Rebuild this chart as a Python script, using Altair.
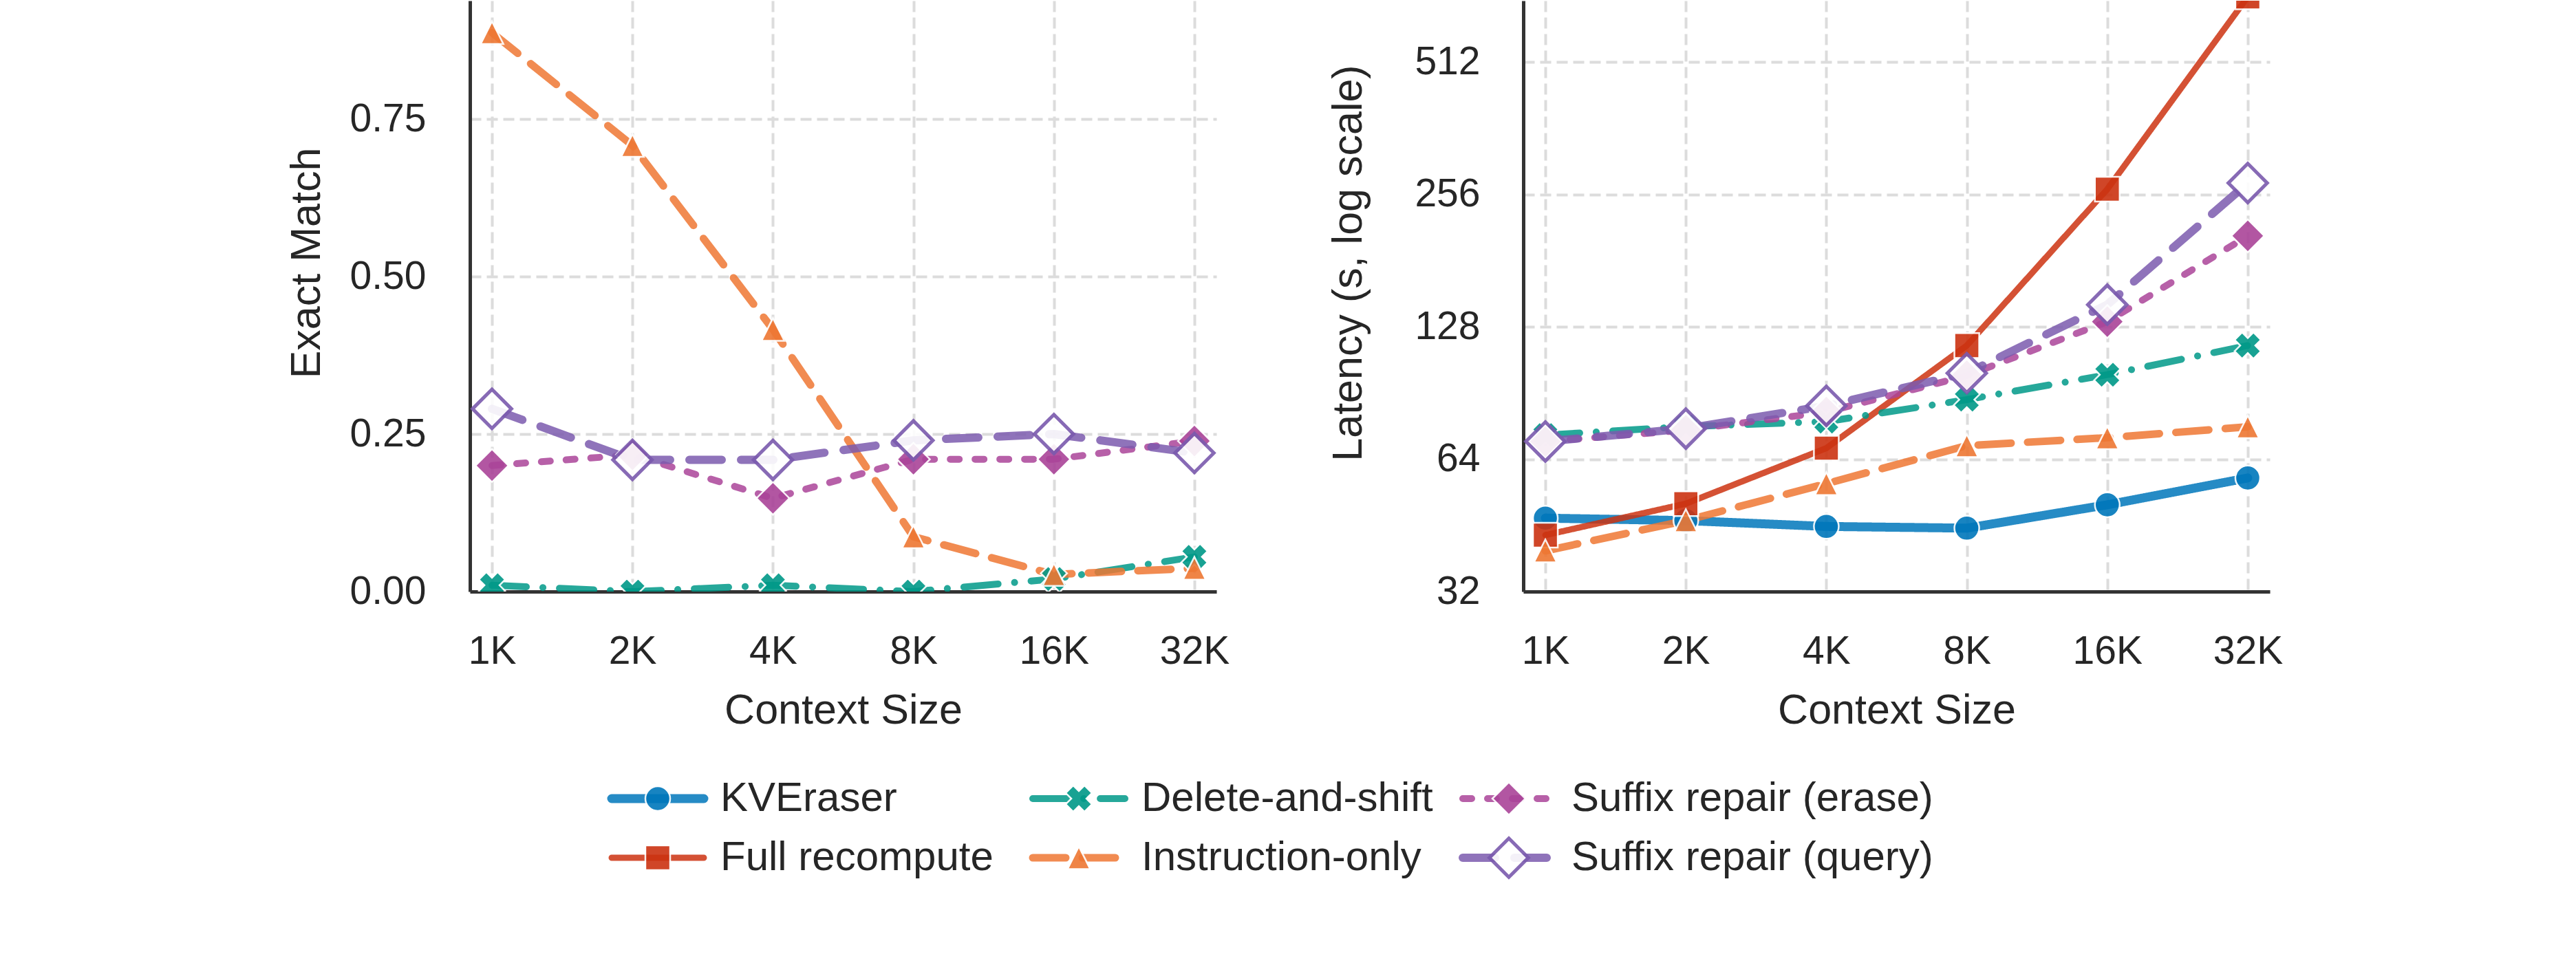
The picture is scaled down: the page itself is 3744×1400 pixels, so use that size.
import altair as alt
import pandas as pd

FONT = "Liberation Sans"
TXT = "#262626"

# ---------------- data ----------------
sizes = ["1K", "2K", "4K", "8K", "16K", "32K"]
methods = ["KVEraser", "Full recompute", "Delete-and-shift", "Instruction-only",
           "Suffix repair (erase)", "Suffix repair (query)"]

# Exact match (left panel); KVEraser / Full recompute sit above the visible crop
em_kveraser = [1.00, 1.00, 1.00, 1.00, 1.00, 1.00]
em_full = [1.00, 1.00, 1.00, 1.00, 1.00, 1.00]
em_delete = [0.01, 0.00, 0.01, 0.00, 0.02, 0.055]
em_instr = [0.887, 0.708, 0.416, 0.087, 0.027, 0.037]
em_erase = [0.20, 0.217, 0.148, 0.21, 0.21, 0.239]
em_query = [0.29, 0.209, 0.209, 0.24, 0.25, 0.22]

# Latency in seconds (right panel, log scale)
lat_kveraser = [47.0, 46.4, 45.0, 44.6, 50.4, 58.0]
lat_full = [43.0, 50.7, 67.8, 116.0, 263.0, 720.0]
lat_delete = [72.6, 75.9, 77.9, 87.4, 99.6, 116.0]
lat_instr = [39.6, 46.4, 56.3, 68.7, 71.6, 75.8]
lat_erase = [70.2, 74.5, 81.9, 99.1, 131.5, 206.0]
lat_query = [70.2, 75.1, 84.6, 100.4, 143.7, 271.6]

em_all = [em_kveraser, em_full, em_delete, em_instr, em_erase, em_query]
lat_all = [lat_kveraser, lat_full, lat_delete, lat_instr, lat_erase, lat_query]

em_rows, lat_rows = [], []
for m, ev, lv in zip(methods, em_all, lat_all):
    for s, a, b in zip(sizes, ev, lv):
        em_rows.append({"method": m, "size": s, "value": a})
        lat_rows.append({"method": m, "size": s, "value": b})
em_df = pd.DataFrame(em_rows)
lat_df = pd.DataFrame(lat_rows)

# ---------------- styles ----------------
colors = ["#0077BB", "#CC3311", "#009988", "#EE7733", "#AA4499", "#7B5AAE"]
dashes = [[1, 0], [1, 0], [50, 24, 0.1, 24], [48, 24], [13, 23], [47, 28]]
line_w = [13, 9, 10, 11, 10, 12]
shapes = ["circle", "square", "cross", "M0,-1L1,1L-1,1Z", "diamond", "diamond"]
angles = [0, 0, 45, 0, 0, 0]
msize = [1300, 1300, 1500, 1100, 2300, 3200]
fills = ["#0077BB", "#CC3311", "#009988", "#EE7733", "#AA4499", "white"]
strokes = ["white", "white", "white", "white", "white", "#7B5AAE"]
mstroke_w = [2.5, 2.5, 2.5, 2.5, 2.5, 5]


def sc(rng):
    return alt.Scale(type="ordinal", domain=methods, range=rng)


PLOT_W, PLOT_H = 1085, 859
x_enc = alt.X("size:N", sort=sizes, title="Context Size",
              scale=alt.Scale(type="point", padding=0.157),
              axis=alt.Axis(labelAngle=0, labelPadding=59, titlePadding=28))


def panel(df, yscale, yaxis):
    base = alt.Chart(df)
    lines = base.mark_line(strokeCap="round", strokeJoin="round", clip=True, opacity=0.85).encode(
        x=x_enc,
        y=alt.Y("value:Q", scale=yscale, axis=yaxis),
        color=alt.Color("method:N", scale=sc(colors), legend=None),
        strokeDash=alt.StrokeDash("method:N", scale=sc(dashes), legend=None),
        strokeWidth=alt.StrokeWidth("method:N", scale=sc(line_w), legend=None),
        detail="method:N",
    )
    pts = base.mark_point(filled=True, clip=True, opacity=0.9).encode(
        x=x_enc,
        y=alt.Y("value:Q", scale=yscale, axis=yaxis),
        shape=alt.Shape("method:N", scale=sc(shapes), legend=None),
        fill=alt.Fill("method:N", scale=sc(fills), legend=None),
        stroke=alt.Stroke("method:N", scale=sc(strokes), legend=None),
        strokeWidth=alt.StrokeWidth("method:N", scale=sc(mstroke_w), legend=None),
        size=alt.Size("method:N", scale=sc(msize), legend=None),
        angle=alt.Angle("method:N", scale=sc(angles), legend=None),
    )
    return alt.layer(lines, pts).resolve_scale(strokeWidth="independent").properties(
        width=PLOT_W, height=PLOT_H)


left = panel(
    em_df,
    alt.Scale(domain=[0, 0.9378], nice=False, zero=False),
    alt.Axis(title="Exact Match", values=[0, 0.25, 0.5, 0.75], format=".2f",
             labelPadding=64, titleX=-219, titleY=381, titleBaseline="alphabetic"),
)
right = panel(
    lat_df,
    alt.Scale(type="log", base=2, domain=[32, 705.6], nice=False),
    alt.Axis(title="Latency (s, log scale)", values=[32, 64, 128, 256, 512], format="d",
             labelPadding=63, titleX=-236, titleY=381, titleBaseline="alphabetic"),
)

# ---------------- legend (built from the method list) ----------------
LEG_W, LEG_H = 2400, 200
col_start = [206, 818, 1443]
row_y = [38, 124]
LINE_LEN = 134
TEXT_OFF = 158
leg_rows = []
for i, m in enumerate(methods):
    x0 = col_start[i // 2]
    leg_rows.append({"method": m, "x0": x0, "x1": x0 + LINE_LEN, "xm": x0 + LINE_LEN / 2,
                     "xt": x0 + TEXT_OFF, "y": row_y[i % 2]})
leg_df = pd.DataFrame(leg_rows)
lx = alt.Scale(domain=[0, LEG_W], nice=False, zero=False)
ly = alt.Scale(domain=[LEG_H, 0], nice=False, zero=False)
lbase = alt.Chart(leg_df)
leg_lines = lbase.mark_rule(strokeCap="round", opacity=0.85).encode(
    x=alt.X("x0:Q", scale=lx, axis=None),
    x2="x1:Q",
    y=alt.Y("y:Q", scale=ly, axis=None),
    color=alt.Color("method:N", scale=sc(colors), legend=None),
    strokeDash=alt.StrokeDash("method:N", scale=sc(dashes), legend=None),
    strokeWidth=alt.StrokeWidth("method:N", scale=sc(line_w), legend=None),
)
leg_pts = lbase.mark_point(filled=True, opacity=0.9).encode(
    x=alt.X("xm:Q", scale=lx, axis=None),
    y=alt.Y("y:Q", scale=ly, axis=None),
    shape=alt.Shape("method:N", scale=sc(shapes), legend=None),
    fill=alt.Fill("method:N", scale=sc(fills), legend=None),
    stroke=alt.Stroke("method:N", scale=sc(strokes), legend=None),
    strokeWidth=alt.StrokeWidth("method:N", scale=sc(mstroke_w), legend=None),
    size=alt.Size("method:N", scale=sc(msize), legend=None),
    angle=alt.Angle("method:N", scale=sc(angles), legend=None),
)
leg_txt = lbase.mark_text(align="left", baseline="middle", font=FONT, fontSize=60, color=TXT).encode(
    x=alt.X("xt:Q", scale=lx, axis=None),
    y=alt.Y("y:Q", scale=ly, axis=None),
    text="method:N",
)
legend = alt.layer(leg_lines, leg_pts, leg_txt).resolve_scale(strokeWidth="independent").properties(
    width=LEG_W, height=LEG_H)

chart = alt.vconcat(
    alt.hconcat(left, right, spacing=140),
    legend,
    spacing=58,
).properties(
    padding={"left": 414, "top": 0, "right": 0, "bottom": 0},
    background="white",
).configure_view(
    stroke="transparent"
).configure_axis(
    grid=True, gridColor="#dcdcdc", gridWidth=4, gridDash=[16, 8],
    domainColor="#333333", domainWidth=5, ticks=False,
    labelFont=FONT, labelFontSize=57, labelColor=TXT,
    titleFont=FONT, titleFontSize=61, titleColor=TXT, titleFontWeight="normal",
)

chart.save("out.html", embed_options={"renderer": "svg", "actions": False})
